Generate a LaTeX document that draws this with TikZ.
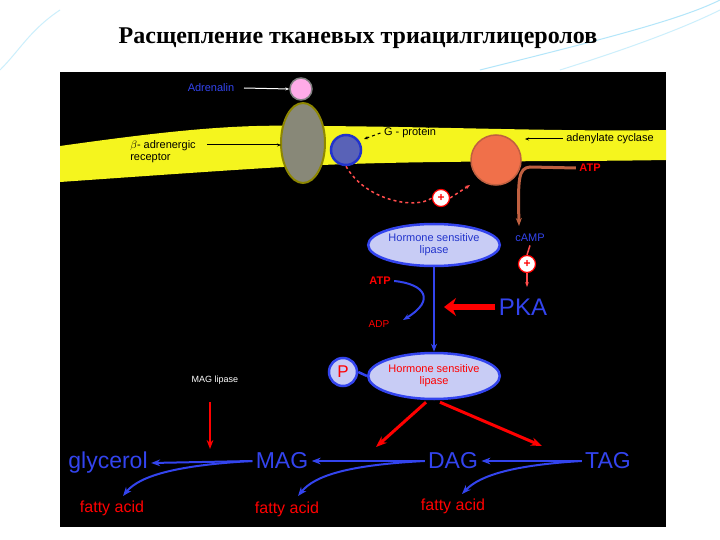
\documentclass[tikz,border=0pt]{standalone}
\usepackage{fontspec}
\setmainfont{Liberation Sans}
\newfontfamily\titlefont{Liberation Serif}
\usetikzlibrary{arrows.meta,shapes.geometric}
\definecolor{lblue}{HTML}{C8CCF5}
\definecolor{mblue}{HTML}{3344EE}
\definecolor{dblue}{HTML}{2233CC}
\definecolor{memb}{HTML}{F5F51E}
\definecolor{rec}{HTML}{888878}
\definecolor{orng}{HTML}{F0704A}
\definecolor{brn}{HTML}{C06040}
\tikzset{
 lab/.style={font=\fontsize{11}{12}\selectfont},
 big/.style={font=\fontsize{23}{24}\selectfont, text=mblue},
 fa/.style={font=\fontsize{16}{17}\selectfont, text=red},
 barr/.style={mblue, line width=2pt, -{Stealth[length=9pt]}},
 rarr/.style={red, line width=3pt, -{Stealth[length=11pt]}},
 plus/.style={circle, draw=red, fill=white, line width=1.2pt, inner sep=0pt, minimum size=17pt, font=\bfseries\large, text=red},
 hsl/.style={ellipse, draw=mblue, fill=lblue, line width=2.5pt, align=center, font=\fontsize{11}{12}\selectfont, inner sep=1pt},
}
\begin{document}
\begin{tikzpicture}[x=1pt,y=-1pt]
\useasboundingbox (0,0) rectangle (720,540);
\fill[white] (0,0) rectangle (720,540);
\draw[cyan!30, line width=1pt] (480,70) .. controls (600,40) and (680,20) .. (720,0);
\draw[cyan!20, line width=1pt] (560,70) .. controls (640,45) and (690,25) .. (720,10);
\draw[cyan!20, line width=1pt] (0,70) .. controls (20,50) and (30,30) .. (60,10);
\node[font=\titlefont\bfseries\fontsize{24}{26}\selectfont] (title) at (358,38) {Расщепление тканевых триацилглицеролов};
\fill[black] (60,72) rectangle (666,527);
% membrane
\fill[memb] (60,146) .. controls (160,132) and (230,124) .. (300,126) .. controls (420,126) and (560,132) .. (666,130)
 -- (666,160) .. controls (560,162) and (420,160) .. (300,166) .. controls (230,170) and (160,175) .. (60,182) -- cycle;
% components
\node[ellipse, draw=olive, fill=rec, line width=2pt, minimum width=44pt, minimum height=80pt] (rec) at (303,143) {};
\node[circle, draw=gray, fill=pink!60!magenta!60, line width=1.5pt, minimum size=22pt] (adr) at (301,89) {};
\node[circle, draw=dblue, fill=mblue!50!gray, line width=2.5pt, minimum size=30pt] (gp) at (346,150) {};
\node[circle, draw=brn, fill=orng, line width=1.5pt, minimum size=50pt] (ac) at (496,160) {};
\node[lab, text=mblue] (adrl) at (211,88) {Adrenalin};
\coordinate (adrs) at (244,88);
\draw[white, line width=1pt, -{Stealth[length=4pt]}] (adrs) -- (adr.west);
\node[lab, align=left] (brl) at (163,152) {$\beta$- adrenergic\\ receptor};
\coordinate (brs) at (207,145);
\coordinate (rece) at (281,145);
\draw[black, line width=1pt, -{Stealth[length=4pt]}] (brs) -- (rece);
\node[lab] (gpl) at (410,133) {G - protein};
\coordinate (gpe) at (364,139);
\draw[black, line width=1pt, dashed, -{Stealth[length=4pt]}] (gpl.west) -- (gpe);
\node[lab] (acl) at (610,139) {adenylate cyclase};
\coordinate (ace) at (525,139);
\draw[black, line width=1pt, -{Stealth[length=4pt]}] (acl.west) -- (ace);
\node[text=red, font=\bfseries\fontsize{11}{12}\selectfont] (atp1) at (590,168) {ATP};
\node[lab, text=mblue] (camp) at (530,238) {cAMP};
\draw[brn, line width=3pt, -{Stealth[length=8pt]}] (atp1.west) -- (530,167) .. controls (518,168) and (518,180) .. (519,226);
\node[plus] (p1) at (441,198) {+};
\draw[red!70!white, line width=1.5pt, dashed] (gp.south) .. controls (365,200) and (415,210) .. (p1.west);
\draw[red!70!white, line width=1.5pt, dashed, -{Stealth[length=5pt]}] (p1.east) -- (470,185);
\node[plus] (p2) at (527,264) {+};
\draw[red!70!white, line width=1.5pt] (camp.south) -- (p2.north);
\coordinate (p2e) at (527,287);
\draw[red!70!white, line width=1.5pt, -{Stealth[length=5pt]}] (p2.south) -- (p2e);
% HSL
\node[hsl, text=dblue, minimum width=126pt, minimum height=42pt] (h1) at (434,245) {Hormone sensitive\\ lipase};
\node[hsl, text=red, minimum width=122pt, minimum height=46pt] (h2) at (434,376) {Hormone sensitive\\ lipase};
\node[circle, draw=mblue, fill=lblue, line width=2.5pt, minimum size=28pt, font=\fontsize{17}{17}\selectfont, text=red, inner sep=0pt] (pp) at (343,372) {P};
\draw[mblue, line width=2.5pt] (pp.east) -- (h2.west);
\draw[mblue, line width=2pt, -{Stealth[length=8pt]}] (h1.south) -- (h2.north);
\node[text=red, font=\bfseries\fontsize{11}{12}\selectfont] (atp2) at (380,281) {ATP};
\node[text=red, font=\fontsize{10}{11}\selectfont] (adp) at (379,324) {ADP};
\draw[mblue, line width=2pt, -{Stealth[length=7pt]}] (atp2.east) .. controls (425,284) and (436,300) .. (403,320);
\node[font=\fontsize{24}{24}\selectfont, text=mblue] (pka) at (523,307) {PKA};
\draw[red, line width=1.2pt, double=red, double distance=4pt, -{Stealth[length=12pt,width=18pt]}] (pka.west) -- (444,307);
% bottom
\node[font=\fontsize{9}{10}\selectfont, text=white] (magl) at (215,380) {MAG lipase};
\node[big] (glyc) at (108,463) {glycerol};
\node[big] (mag) at (282,461) {MAG};
\node[big] (dag) at (453,461) {DAG};
\node[big] (tag) at (608,461) {TAG};
\node[fa] (fa1) at (112,508) {fatty acid};
\node[fa] (fa2) at (287,509) {fatty acid};
\node[fa] (fa3) at (453,506) {fatty acid};
\coordinate (ms) at (210,402);
\coordinate (me) at (210,449);
\draw[red, line width=2pt, -{Stealth[length=9pt]}] (ms) -- (me);
\draw[rarr] (h2.south) ++(-8,2) -- (376,447);
\draw[rarr] (h2.south) ++(6,2) -- (542,446);
\draw[barr] (mag.west) -- (glyc.east);
\draw[barr] (mag.west) .. controls (180,465) and (140,475) .. (123,496);
\draw[barr] (dag.west) -- (mag.east);
\draw[barr] (dag.west) .. controls (350,465) and (315,475) .. (298,496);
\draw[barr] (tag.west) -- (dag.east);
\draw[barr] (tag.west) .. controls (515,465) and (480,475) .. (462,494);
\end{tikzpicture}
\end{document}
